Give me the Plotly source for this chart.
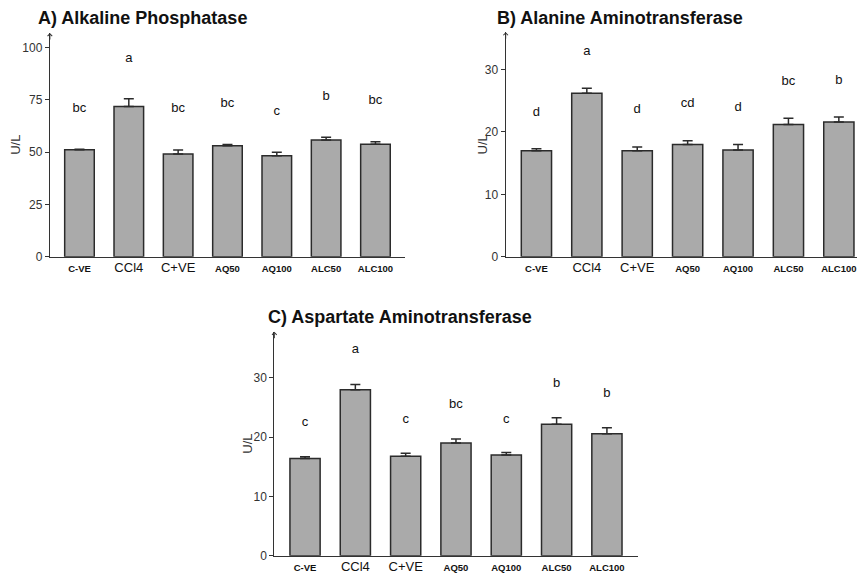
import plotly.graph_objects as go

categories = ["C-VE", "CCl4", "C+VE", "AQ50", "AQ100", "ALC50", "ALC100"]

alp_mean = [51.1, 71.9, 49.1, 53.1, 48.3, 55.8, 53.8]
alp_err = [0.3, 3.6, 1.9, 0.6, 1.6, 1.3, 1.2]
alp_letters = ["bc", "a", "bc", "bc", "c", "b", "bc"]
alp_letter_y = [70.6, 94.6, 70.6, 73.0, 69.4, 76.6, 74.6]

alt_mean = [17.0, 26.2, 17.0, 18.0, 17.1, 21.2, 21.6]
alt_err = [0.3, 0.8, 0.6, 0.6, 0.9, 1.0, 0.8]
alt_letters = ["d", "a", "d", "cd", "d", "bc", "b"]
alt_letter_y = [23.1, 32.9, 23.5, 24.5, 23.9, 28.0, 28.2]

ast_mean = [16.4, 28.0, 16.8, 19.0, 17.0, 22.2, 20.6]
ast_err = [0.3, 0.9, 0.5, 0.7, 0.4, 1.1, 1.0]
ast_letters = ["c", "a", "c", "bc", "c", "b", "b"]
ast_letter_y = [22.4, 34.7, 23.0, 25.4, 23.0, 29.1, 27.4]

titles = ["A) Alkaline Phosphatase", "B) Alanine Aminotransferase", "C) Aspartate Aminotransferase"]
y_ticks = [[0, 25, 50, 75, 100], [0, 10, 20, 30], [0, 10, 20, 30]]

FONT = "Arial, Liberation Sans, sans-serif"
AX = "#333333"


def tick_text(c):
    if c in ("CCl4", "C+VE"):
        return f'<span style="font-size:13px">{c}</span>'
    return f'<b><span style="font-size:9.5px">{c}</span></b>'


panels = [
    dict(mean=alp_mean, err=alp_err, letters=alp_letters, ly=alp_letter_y, title=titles[0],
         xd=[0.058, 0.471], yd=[0.5536, 0.9426], yr=[0, 107], xr=[-0.6, 6.6], ticks=y_ticks[0],
         title_x=36, title_y=18, ytitle_x=16),
    dict(mean=alt_mean, err=alt_err, letters=alt_letters, ly=alt_letter_y, title=titles[1],
         xd=[0.588, 0.9965], yd=[0.5536, 0.944], yr=[0, 36], xr=[-0.61, 6.36], ticks=y_ticks[1],
         title_x=495, title_y=18, ytitle_x=482),
    dict(mean=ast_mean, err=ast_err, letters=ast_letters, ly=ast_letter_y, title=titles[2],
         xd=[0.319, 0.742], yd=[0.0336, 0.4231], yr=[0, 37.8], xr=[-0.61, 6.62], ticks=y_ticks[2],
         title_x=266, title_y=317, ytitle_x=248),
]

W, H = 860, 575
fig = go.Figure()
layout = dict(
    width=W, height=H, margin=dict(l=0, r=0, t=0, b=0, autoexpand=False),
    paper_bgcolor="white", plot_bgcolor="white", showlegend=False,
    font=dict(family=FONT, color="#222222"),
    annotations=[], bargap=0.4,
)

for i, p in enumerate(panels):
    n = "" if i == 0 else str(i + 1)
    xa, ya = "x" + n, "y" + n
    xs = list(range(len(categories)))
    fig.add_trace(go.Bar(
        x=xs, y=p["mean"], xaxis=xa, yaxis=ya, width=0.6,
        marker=dict(color="#aaaaaa", line=dict(color="#2b2b2b", width=1.5)),
        error_y=dict(type="data", array=p["err"], arrayminus=[0] * len(xs), symmetric=False,
                     color="#2b2b2b", thickness=1.5, width=5),
        hoverinfo="skip", cliponaxis=False,
    ))
    fig.add_trace(go.Scatter(
        x=xs, y=p["ly"], xaxis=xa, yaxis=ya, mode="text", text=p["letters"],
        textfont=dict(size=13, color="#111111", family=FONT), hoverinfo="skip",
    ))
    layout["xaxis" + n] = dict(
        domain=p["xd"], range=p["xr"], anchor=ya, showline=True, linecolor=AX, linewidth=1.2,
        tickmode="array", tickvals=xs, ticktext=[tick_text(c) for c in categories],
        ticks="", showgrid=False, zeroline=False, tickfont=dict(color="#111111", family=FONT),
        fixedrange=True, automargin=False,
    )
    layout["yaxis" + n] = dict(
        domain=p["yd"], range=p["yr"], anchor=xa, showline=True, linecolor=AX, linewidth=1.2,
        tickmode="array", tickvals=p["ticks"], ticks="outside", ticklen=4, tickcolor=AX,
        showgrid=False, zeroline=False, tickfont=dict(size=12, color="#333333", family=FONT),
        fixedrange=True, automargin=False,
    )
    layout["annotations"].append(dict(
        text=f"<b>{p['title']}</b>", xref="paper", yref="paper",
        x=p["title_x"] / W, y=1 - p["title_y"] / H, xanchor="left", yanchor="middle",
        showarrow=False, font=dict(size=18, color="#111111", family=FONT),
    ))
    mid = (p["yd"][0] + p["yd"][1]) / 2
    layout["annotations"].append(dict(
        text="U/L", xref="paper", yref="paper", x=p["ytitle_x"] / W, y=mid,
        xanchor="center", yanchor="middle",
        textangle=-90, showarrow=False, font=dict(size=13, color="#333333", family=FONT),
    ))
    layout["annotations"].append(dict(
        text="", xref="paper", yref="paper", x=p["xd"][0], y=p["yd"][1],
        ax=0, ay=8, showarrow=True, arrowhead=4, arrowsize=0.9, arrowwidth=1, arrowcolor=AX,
    ))

fig.update_layout(**layout)
fig.write_html(
    "out.html",
    config={"displayModeBar": False},
    post_script="document.body.style.margin='0';document.body.style.padding='0';",
)
